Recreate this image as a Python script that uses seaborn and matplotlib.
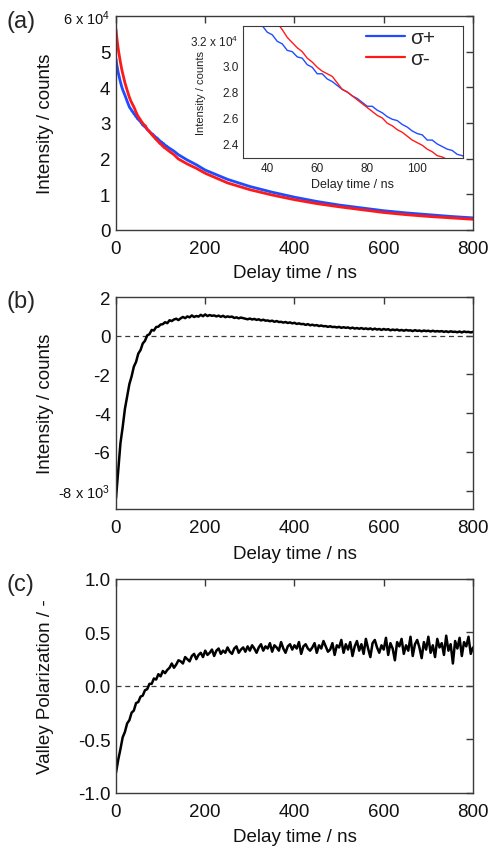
import numpy as np
import pandas as pd
import matplotlib
matplotlib.use("Agg")
import matplotlib.pyplot as plt
import seaborn as sns

# ---------------- data ----------------
# panel (a): decay traces (units of 1e4 counts)
time_a = [0, 1, 2, 4, 6, 8, 10, 13, 16, 20, 25,
          30, 32, 34, 36, 38, 40, 42, 44, 46, 48, 50, 52, 54, 56, 58, 60,
          62, 64, 66, 68, 70, 72, 74, 76, 78, 80, 82, 84, 86, 88, 90, 92,
          94, 96, 98, 100, 102, 104, 106, 108, 110, 112, 114, 116, 118, 120,
          130, 140, 160, 180, 200, 250, 300, 350, 400, 450, 500, 550, 600,
          650, 700, 750, 800]
sigma_plus = [4.80, 4.70, 4.62, 4.48, 4.36, 4.25, 4.15, 4.01, 3.90, 3.78, 3.61,
              3.45, 3.41, 3.38, 3.33, 3.31, 3.26, 3.24, 3.19, 3.17, 3.12, 3.11,
              3.07, 3.06, 3.01, 2.99, 2.94, 2.94, 2.90, 2.88, 2.85, 2.82, 2.80,
              2.77, 2.75, 2.72, 2.69, 2.69, 2.66, 2.64, 2.61, 2.59, 2.58, 2.55,
              2.53, 2.50, 2.48, 2.47, 2.43, 2.43, 2.40, 2.38, 2.36, 2.35, 2.32,
              2.31, 2.29,
              2.21, 2.11, 1.96, 1.83, 1.68, 1.42, 1.22, 1.06, 0.92, 0.80, 0.70,
              0.62, 0.54, 0.48, 0.43, 0.38, 0.34]
sigma_minus = [5.63, 5.50, 5.38, 5.18, 5.00, 4.85, 4.70, 4.50, 4.34, 4.13, 3.92,
               3.72, 3.66, 3.60, 3.55, 3.50, 3.45, 3.40, 3.33, 3.28, 3.22, 3.18,
               3.14, 3.11, 3.06, 3.03, 2.99, 2.96, 2.94, 2.92, 2.87, 2.82, 2.80,
               2.77, 2.74, 2.71, 2.68, 2.65, 2.62, 2.60, 2.56, 2.54, 2.51, 2.49,
               2.46, 2.43, 2.41, 2.39, 2.36, 2.34, 2.31, 2.30, 2.28, 2.26, 2.24,
               2.22, 2.20,
               2.11, 1.99, 1.85, 1.73, 1.59, 1.32, 1.13, 0.98, 0.85, 0.74, 0.65,
               0.57, 0.49, 0.43, 0.38, 0.34, 0.30]

# panels (b), (c): sampled every 5 ns
delay_bc = np.arange(0, 801, 5)
diff_counts = [  # units of 1e3 counts
    -8.40, -6.95, -5.55, -4.72, -3.78, -3.15, -2.50, -2.10, -1.60, -1.35,
    -0.92, -0.74, -0.40, -0.26, 0.02, 0.08, 0.30, 0.27, 0.45, 0.47,
    0.58, 0.60, 0.70, 0.65, 0.80, 0.76, 0.84, 0.88, 0.81, 0.90,
    0.97, 0.91, 1.00, 0.95, 1.05, 0.97, 1.02, 0.99, 1.08, 1.01,
    1.10, 1.02, 1.07, 1.03, 1.05, 1.00, 1.04, 0.98, 1.03, 0.96,
    1.00, 0.97, 0.99, 0.92, 0.95, 0.90, 0.94, 0.91, 0.88, 0.85,
    0.89, 0.84, 0.87, 0.82, 0.85, 0.79, 0.83, 0.78, 0.79, 0.75,
    0.78, 0.72, 0.76, 0.71, 0.72, 0.68, 0.71, 0.66, 0.69, 0.64,
    0.67, 0.61, 0.64, 0.60, 0.61, 0.56, 0.60, 0.54, 0.57, 0.53,
    0.55, 0.50, 0.53, 0.49, 0.50, 0.46, 0.49, 0.45, 0.46, 0.43,
    0.46, 0.41, 0.44, 0.41, 0.43, 0.38, 0.42, 0.37, 0.40, 0.36,
    0.40, 0.35, 0.38, 0.34, 0.38, 0.32, 0.37, 0.32, 0.35, 0.30,
    0.35, 0.31, 0.34, 0.28, 0.32, 0.29, 0.32, 0.27, 0.30, 0.26,
    0.30, 0.27, 0.28, 0.24, 0.29, 0.25, 0.27, 0.23, 0.27, 0.24,
    0.26, 0.22, 0.26, 0.22, 0.24, 0.22, 0.24, 0.20, 0.23, 0.19,
    0.23, 0.20, 0.21, 0.18, 0.22, 0.17, 0.22, 0.19, 0.20, 0.17,
    0.20]
valley_pol = [
    -0.81, -0.69, -0.59, -0.48, -0.43, -0.35, -0.32, -0.25, -0.23, -0.16,
    -0.15, -0.10, -0.09, -0.04, -0.03, 0.02, 0.02, 0.07, 0.06, 0.11,
    0.09, 0.14, 0.12, 0.15, 0.17, 0.21, 0.17, 0.20, 0.24, 0.23,
    0.21, 0.27, 0.25, 0.23, 0.28, 0.30, 0.25, 0.29, 0.31, 0.27,
    0.33, 0.29, 0.31, 0.34, 0.28, 0.33, 0.35, 0.30, 0.33, 0.31,
    0.36, 0.32, 0.30, 0.35, 0.37, 0.31, 0.34, 0.36, 0.32, 0.37,
    0.33, 0.38, 0.35, 0.31, 0.36, 0.39, 0.33, 0.37, 0.35, 0.40,
    0.32, 0.38, 0.36, 0.33, 0.41, 0.35, 0.31, 0.37, 0.39, 0.34,
    0.38, 0.35, 0.41, 0.30, 0.37, 0.39, 0.35, 0.33, 0.36, 0.40,
    0.31, 0.38, 0.35, 0.42, 0.37, 0.32, 0.34, 0.40, 0.29, 0.38,
    0.36, 0.43, 0.31, 0.39, 0.34, 0.41, 0.28, 0.37, 0.42, 0.33,
    0.39, 0.30, 0.44, 0.35, 0.27, 0.40, 0.43, 0.36, 0.31, 0.38,
    0.34, 0.45, 0.29, 0.40, 0.35, 0.24, 0.41, 0.37, 0.44, 0.30,
    0.38, 0.33, 0.46, 0.28, 0.39, 0.43, 0.36, 0.26, 0.41, 0.34,
    0.46, 0.31, 0.38, 0.27, 0.44, 0.36, 0.40, 0.29, 0.47, 0.33,
    0.39, 0.21, 0.42, 0.35, 0.45, 0.28, 0.41, 0.37, 0.46, 0.30,
    0.36]

x_ticks = [0, 200, 400, 600, 800]
a_yticks = [0, 1, 2, 3, 4, 5, 6]
a_ylabels = ["0", "1", "2", "3", "4", "5", "6 x 10$^{4}$"]
b_yticks = [-8, -6, -4, -2, 0, 2]
b_ylabels = ["-8 x 10$^{3}$", "-6", "-4", "-2", "0", "2"]
c_yticks = [-1.0, -0.5, 0.0, 0.5, 1.0]
c_ylabels = ["-1.0", "-0.5", "0.0", "0.5", "1.0"]
in_xticks = [40, 60, 80, 100]
in_yticks = [2.4, 2.6, 2.8, 3.0, 3.2]
in_ylabels = ["2.4", "2.6", "2.8", "3.0", "3.2 x 10$^{4}$"]

# ---------------- style ----------------
sns.set_style("white")
plt.rcParams["font.family"] = ["Liberation Sans", "DejaVu Sans"]
plt.rcParams["mathtext.fontset"] = "custom"
plt.rcParams["mathtext.rm"] = "Liberation Sans"
plt.rcParams["mathtext.it"] = "Liberation Sans"
plt.rcParams["axes.unicode_minus"] = False

BLUE = "#1f4cff"
RED = "#ff1a1a"
SPINE = "#3a3a3a"
TXT = "#111111"
LABEL_FS = 13.5
TICK_FS = 13.5

df_a = pd.DataFrame({"t": time_a, "plus": sigma_plus, "minus": sigma_minus})
df_b = pd.DataFrame({"t": delay_bc, "v": diff_counts})
df_c = pd.DataFrame({"t": delay_bc, "v": valley_pol})

fig = plt.figure(figsize=(4.95, 8.53), dpi=100)
ax_a = fig.add_axes([0.2343, 0.7292, 0.7212, 0.2509])
ax_b = fig.add_axes([0.2343, 0.4021, 0.7212, 0.2485])
ax_c = fig.add_axes([0.2343, 0.0692, 0.7212, 0.2509])
ax_in = fig.add_axes([0.4909, 0.8136, 0.4444, 0.1548])


def style_main(ax):
    for s in ax.spines.values():
        s.set_color(SPINE)
        s.set_linewidth(1.0)
    ax.tick_params(direction="in", top=True, right=True, length=5, width=1.0,
                   color=SPINE, labelsize=TICK_FS, labelcolor=TXT)
    ax.tick_params(axis="x", pad=7)
    ax.tick_params(axis="y", pad=4)
    ax.set_xlim(0, 800)
    ax.set_xticks(x_ticks)
    ax.set_xlabel("Delay time / ns", fontsize=LABEL_FS, color=TXT)
    ax.xaxis.set_label_coords(0.5, -0.20)
    ax.xaxis.label.set_va("center")


# panel a
sns.lineplot(data=df_a, x="t", y="plus", ax=ax_a, color=BLUE, lw=2.0)
sns.lineplot(data=df_a, x="t", y="minus", ax=ax_a, color=RED, lw=2.0)
style_main(ax_a)
ax_a.set_ylim(0, 6)
ax_a.set_yticks(a_yticks)
ax_a.set_yticklabels(a_ylabels)
ax_a.get_yticklabels()[-1].set_fontsize(10.5)
ax_a.set_ylabel("Intensity / counts", fontsize=LABEL_FS, color=TXT)
ax_a.yaxis.set_label_coords(-0.175, 0.5)

# panel b
sns.lineplot(data=df_b, x="t", y="v", ax=ax_b, color="black", lw=1.8)
ax_b.axhline(0, ls=(0, (4, 3)), color=SPINE, lw=0.9, zorder=1)
style_main(ax_b)
ax_b.set_ylim(-8.95, 2.0)
ax_b.set_yticks(b_yticks)
ax_b.set_yticklabels(b_ylabels)
ax_b.get_yticklabels()[0].set_fontsize(10.5)
ax_b.set_ylabel("Intensity / counts", fontsize=LABEL_FS, color=TXT)
ax_b.yaxis.set_label_coords(-0.175, 0.5)
ax_b.xaxis.set_label_coords(0.5, -0.21)

# panel c
sns.lineplot(data=df_c, x="t", y="v", ax=ax_c, color="black", lw=1.8)
ax_c.axhline(0, ls=(0, (4, 3)), color=SPINE, lw=0.9, zorder=1)
style_main(ax_c)
ax_c.set_ylim(-1.0, 1.0)
ax_c.set_yticks(c_yticks)
ax_c.set_yticklabels(c_ylabels)
ax_c.set_ylabel("Valley Polarization / -", fontsize=LABEL_FS, color=TXT)
ax_c.yaxis.set_label_coords(-0.175, 0.5)
ax_c.xaxis.set_label_coords(0.5, -0.205)

# inset
sns.lineplot(data=df_a, x="t", y="plus", ax=ax_in, color=BLUE, lw=1.0,
             label="σ+")
sns.lineplot(data=df_a, x="t", y="minus", ax=ax_in, color=RED, lw=1.0,
             label="σ-")
ax_in.set_xlim(30.3, 118.3)
ax_in.set_ylim(2.292, 3.308)
ax_in.set_xticks(in_xticks)
ax_in.set_yticks(in_yticks)
ax_in.set_yticklabels(in_ylabels)
ax_in.get_yticklabels()[-1].set_fontsize(6.5)
for s in ax_in.spines.values():
    s.set_color(SPINE)
    s.set_linewidth(0.8)
ax_in.tick_params(direction="in", length=3, width=0.8, color=SPINE,
                  labelsize=8.5, pad=3, labelcolor="#222222")
ax_in.set_xlabel("Delay time / ns", fontsize=9, color="#222222")
ax_in.set_ylabel("Intensity / counts", fontsize=8, color="#222222")
ax_in.xaxis.set_label_coords(0.5, -0.20)
ax_in.xaxis.label.set_va("center")
ax_in.yaxis.set_label_coords(-0.17, 0.5)
leg = ax_in.legend(loc="upper left", bbox_to_anchor=(0.56, 0.985), frameon=False,
                   fontsize=15, handlelength=1.85, handletextpad=0.25,
                   labelspacing=0.12, borderpad=0.0, borderaxespad=0.0)
for h in leg.get_lines():
    h.set_linewidth(1.6)

# panel letters
fig.text(6 / 495, 1 - 22 / 853, "(a)", fontsize=17, va="center", ha="left")
fig.text(6 / 495, 1 - 302 / 853, "(b)", fontsize=17, va="center", ha="left")
fig.text(6 / 495, 1 - 585 / 853, "(c)", fontsize=17, va="center", ha="left")

fig.savefig("out.png", dpi=100)
